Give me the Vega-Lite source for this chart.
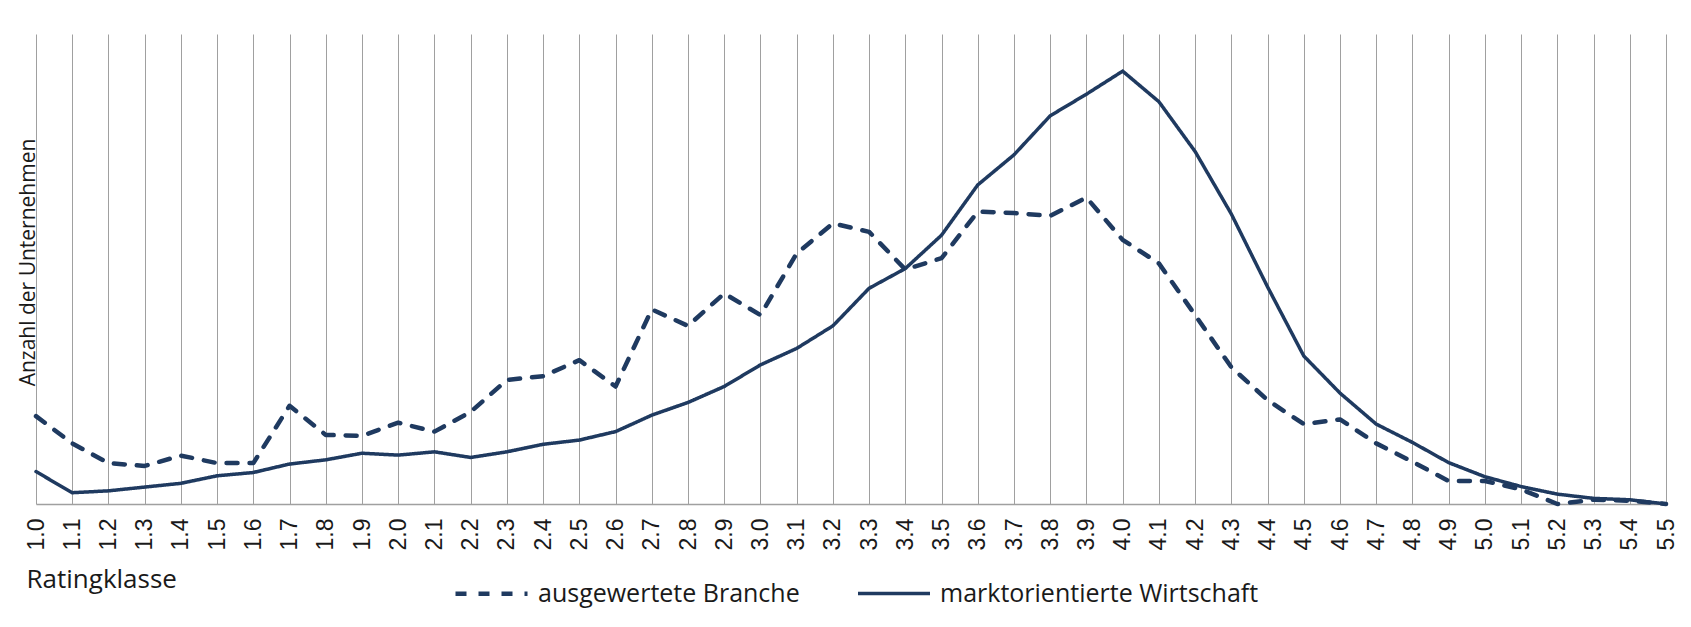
{
  "$schema": "https://vega.github.io/schema/vega-lite/v6.json",
  "width": 1630,
  "height": 470,
  "autosize": "none",
  "padding": {"left": 36, "top": 34, "right": 25, "bottom": 123},
  "background": "white",
  "config": {"view": {"stroke": null}},
  "datasets": {
    "ratings": [
      {"r": "1.0", "serie": "ausgewertete Branche", "n": 18.7},
      {"r": "1.1", "serie": "ausgewertete Branche", "n": 12.9},
      {"r": "1.2", "serie": "ausgewertete Branche", "n": 8.7},
      {"r": "1.3", "serie": "ausgewertete Branche", "n": 8.1},
      {"r": "1.4", "serie": "ausgewertete Branche", "n": 10.3},
      {"r": "1.5", "serie": "ausgewertete Branche", "n": 8.7},
      {"r": "1.6", "serie": "ausgewertete Branche", "n": 8.7},
      {"r": "1.7", "serie": "ausgewertete Branche", "n": 20.9},
      {"r": "1.8", "serie": "ausgewertete Branche", "n": 14.7},
      {"r": "1.9", "serie": "ausgewertete Branche", "n": 14.5},
      {"r": "2.0", "serie": "ausgewertete Branche", "n": 17.3},
      {"r": "2.1", "serie": "ausgewertete Branche", "n": 15.4},
      {"r": "2.2", "serie": "ausgewertete Branche", "n": 19.6},
      {"r": "2.3", "serie": "ausgewertete Branche", "n": 26.4},
      {"r": "2.4", "serie": "ausgewertete Branche", "n": 27.2},
      {"r": "2.5", "serie": "ausgewertete Branche", "n": 30.6},
      {"r": "2.6", "serie": "ausgewertete Branche", "n": 25.0},
      {"r": "2.7", "serie": "ausgewertete Branche", "n": 41.4},
      {"r": "2.8", "serie": "ausgewertete Branche", "n": 37.9},
      {"r": "2.9", "serie": "ausgewertete Branche", "n": 44.8},
      {"r": "3.0", "serie": "ausgewertete Branche", "n": 40.2},
      {"r": "3.1", "serie": "ausgewertete Branche", "n": 53.3},
      {"r": "3.2", "serie": "ausgewertete Branche", "n": 59.7},
      {"r": "3.3", "serie": "ausgewertete Branche", "n": 57.9},
      {"r": "3.4", "serie": "ausgewertete Branche", "n": 49.9},
      {"r": "3.5", "serie": "ausgewertete Branche", "n": 52.3},
      {"r": "3.6", "serie": "ausgewertete Branche", "n": 62.2},
      {"r": "3.7", "serie": "ausgewertete Branche", "n": 61.9},
      {"r": "3.8", "serie": "ausgewertete Branche", "n": 61.3},
      {"r": "3.9", "serie": "ausgewertete Branche", "n": 65.2},
      {"r": "4.0", "serie": "ausgewertete Branche", "n": 56.2},
      {"r": "4.1", "serie": "ausgewertete Branche", "n": 51.2},
      {"r": "4.2", "serie": "ausgewertete Branche", "n": 40.2},
      {"r": "4.3", "serie": "ausgewertete Branche", "n": 29.1},
      {"r": "4.4", "serie": "ausgewertete Branche", "n": 22.1},
      {"r": "4.5", "serie": "ausgewertete Branche", "n": 17.0},
      {"r": "4.6", "serie": "ausgewertete Branche", "n": 18.0},
      {"r": "4.7", "serie": "ausgewertete Branche", "n": 12.9},
      {"r": "4.8", "serie": "ausgewertete Branche", "n": 9.0},
      {"r": "4.9", "serie": "ausgewertete Branche", "n": 4.9},
      {"r": "5.0", "serie": "ausgewertete Branche", "n": 4.9},
      {"r": "5.1", "serie": "ausgewertete Branche", "n": 3.1},
      {"r": "5.2", "serie": "ausgewertete Branche", "n": 0.0},
      {"r": "5.3", "serie": "ausgewertete Branche", "n": 0.9},
      {"r": "5.4", "serie": "ausgewertete Branche", "n": 0.7},
      {"r": "5.5", "serie": "ausgewertete Branche", "n": 0.0},
      {"r": "1.0", "serie": "marktorientierte Wirtschaft", "n": 6.9},
      {"r": "1.1", "serie": "marktorientierte Wirtschaft", "n": 2.4},
      {"r": "1.2", "serie": "marktorientierte Wirtschaft", "n": 2.8},
      {"r": "1.3", "serie": "marktorientierte Wirtschaft", "n": 3.6},
      {"r": "1.4", "serie": "marktorientierte Wirtschaft", "n": 4.4},
      {"r": "1.5", "serie": "marktorientierte Wirtschaft", "n": 6.0},
      {"r": "1.6", "serie": "marktorientierte Wirtschaft", "n": 6.7},
      {"r": "1.7", "serie": "marktorientierte Wirtschaft", "n": 8.5},
      {"r": "1.8", "serie": "marktorientierte Wirtschaft", "n": 9.4},
      {"r": "1.9", "serie": "marktorientierte Wirtschaft", "n": 10.8},
      {"r": "2.0", "serie": "marktorientierte Wirtschaft", "n": 10.4},
      {"r": "2.1", "serie": "marktorientierte Wirtschaft", "n": 11.1},
      {"r": "2.2", "serie": "marktorientierte Wirtschaft", "n": 9.9},
      {"r": "2.3", "serie": "marktorientierte Wirtschaft", "n": 11.1},
      {"r": "2.4", "serie": "marktorientierte Wirtschaft", "n": 12.7},
      {"r": "2.5", "serie": "marktorientierte Wirtschaft", "n": 13.6},
      {"r": "2.6", "serie": "marktorientierte Wirtschaft", "n": 15.4},
      {"r": "2.7", "serie": "marktorientierte Wirtschaft", "n": 18.9},
      {"r": "2.8", "serie": "marktorientierte Wirtschaft", "n": 21.6},
      {"r": "2.9", "serie": "marktorientierte Wirtschaft", "n": 25.0},
      {"r": "3.0", "serie": "marktorientierte Wirtschaft", "n": 29.6},
      {"r": "3.1", "serie": "marktorientierte Wirtschaft", "n": 33.1},
      {"r": "3.2", "serie": "marktorientierte Wirtschaft", "n": 37.9},
      {"r": "3.3", "serie": "marktorientierte Wirtschaft", "n": 45.9},
      {"r": "3.4", "serie": "marktorientierte Wirtschaft", "n": 50.1},
      {"r": "3.5", "serie": "marktorientierte Wirtschaft", "n": 57.2},
      {"r": "3.6", "serie": "marktorientierte Wirtschaft", "n": 67.9},
      {"r": "3.7", "serie": "marktorientierte Wirtschaft", "n": 74.3},
      {"r": "3.8", "serie": "marktorientierte Wirtschaft", "n": 82.6},
      {"r": "3.9", "serie": "marktorientierte Wirtschaft", "n": 87.2},
      {"r": "4.0", "serie": "marktorientierte Wirtschaft", "n": 92.1},
      {"r": "4.1", "serie": "marktorientierte Wirtschaft", "n": 85.6},
      {"r": "4.2", "serie": "marktorientierte Wirtschaft", "n": 75.0},
      {"r": "4.3", "serie": "marktorientierte Wirtschaft", "n": 61.7},
      {"r": "4.4", "serie": "marktorientierte Wirtschaft", "n": 46.2},
      {"r": "4.5", "serie": "marktorientierte Wirtschaft", "n": 31.5},
      {"r": "4.6", "serie": "marktorientierte Wirtschaft", "n": 23.6},
      {"r": "4.7", "serie": "marktorientierte Wirtschaft", "n": 17.0},
      {"r": "4.8", "serie": "marktorientierte Wirtschaft", "n": 13.1},
      {"r": "4.9", "serie": "marktorientierte Wirtschaft", "n": 8.8},
      {"r": "5.0", "serie": "marktorientierte Wirtschaft", "n": 5.8},
      {"r": "5.1", "serie": "marktorientierte Wirtschaft", "n": 3.7},
      {"r": "5.2", "serie": "marktorientierte Wirtschaft", "n": 2.1},
      {"r": "5.3", "serie": "marktorientierte Wirtschaft", "n": 1.2},
      {"r": "5.4", "serie": "marktorientierte Wirtschaft", "n": 0.9},
      {"r": "5.5", "serie": "marktorientierte Wirtschaft", "n": 0.0}
    ]
  },
  "data": {"name": "ratings"},
  "mark": {"type": "line", "color": "#1f3a60", "strokeCap": "round", "strokeJoin": "round"},
  "encoding": {
    "x": {
      "field": "r",
      "type": "ordinal",
      "scale": {"type": "point", "padding": 0},
      "axis": {
        "title": "Ratingklasse",
        "titleFont": "Open Sans",
        "titleFontSize": 26,
        "titleFontWeight": "normal",
        "titleColor": "#1a1a1a",
        "titleAnchor": "start",
        "titleAlign": "left",
        "titleBaseline": "alphabetic",
        "titleX": -10,
        "titleY": 83,
        "labelAngle": 270,
        "labelFont": "Liberation Sans",
        "labelFontSize": 23,
        "labelColor": "#1a1a1a",
        "labelPadding": 14,
        "ticks": false,
        "grid": true,
        "gridColor": "#a0a0a0",
        "gridWidth": 1,
        "gridOpacity": 1,
        "domainColor": "#a0a0a0",
        "domainWidth": 1.5
      }
    },
    "y": {
      "field": "n",
      "type": "quantitative",
      "scale": {"domain": [0, 100], "nice": false},
      "axis": {
        "title": "Anzahl der Unternehmen",
        "titleFont": "Open Sans",
        "titleFontSize": 21,
        "titleFontWeight": "normal",
        "titleColor": "#1a1a1a",
        "titleAngle": 270,
        "titleAlign": "center",
        "titleBaseline": "alphabetic",
        "titleX": -2,
        "titleY": 228,
        "labels": false,
        "ticks": false,
        "domain": false,
        "grid": false
      }
    },
    "strokeDash": {
      "field": "serie",
      "type": "nominal",
      "scale": {"domain": ["ausgewertete Branche", "marktorientierte Wirtschaft"], "range": [[11, 12], [1, 0]]},
      "legend": {
        "title": null,
        "orient": "none",
        "direction": "horizontal",
        "legendX": 417,
        "legendY": 521,
        "padding": 0,
        "symbolType": "stroke",
        "symbolSize": 5184,
        "symbolStrokeColor": "#1f3a60",
        "symbolStrokeWidth": 4.5,
        "labelFont": "Open Sans",
        "labelFontSize": 25,
        "labelColor": "#1a1a1a",
        "labelOffset": 8,
        "labelLimit": 500,
        "columnPadding": 51
      }
    },
    "strokeWidth": {
      "field": "serie",
      "type": "nominal",
      "scale": {"domain": ["ausgewertete Branche", "marktorientierte Wirtschaft"], "range": [4.5, 3.5]},
      "legend": null
    }
  }
}
